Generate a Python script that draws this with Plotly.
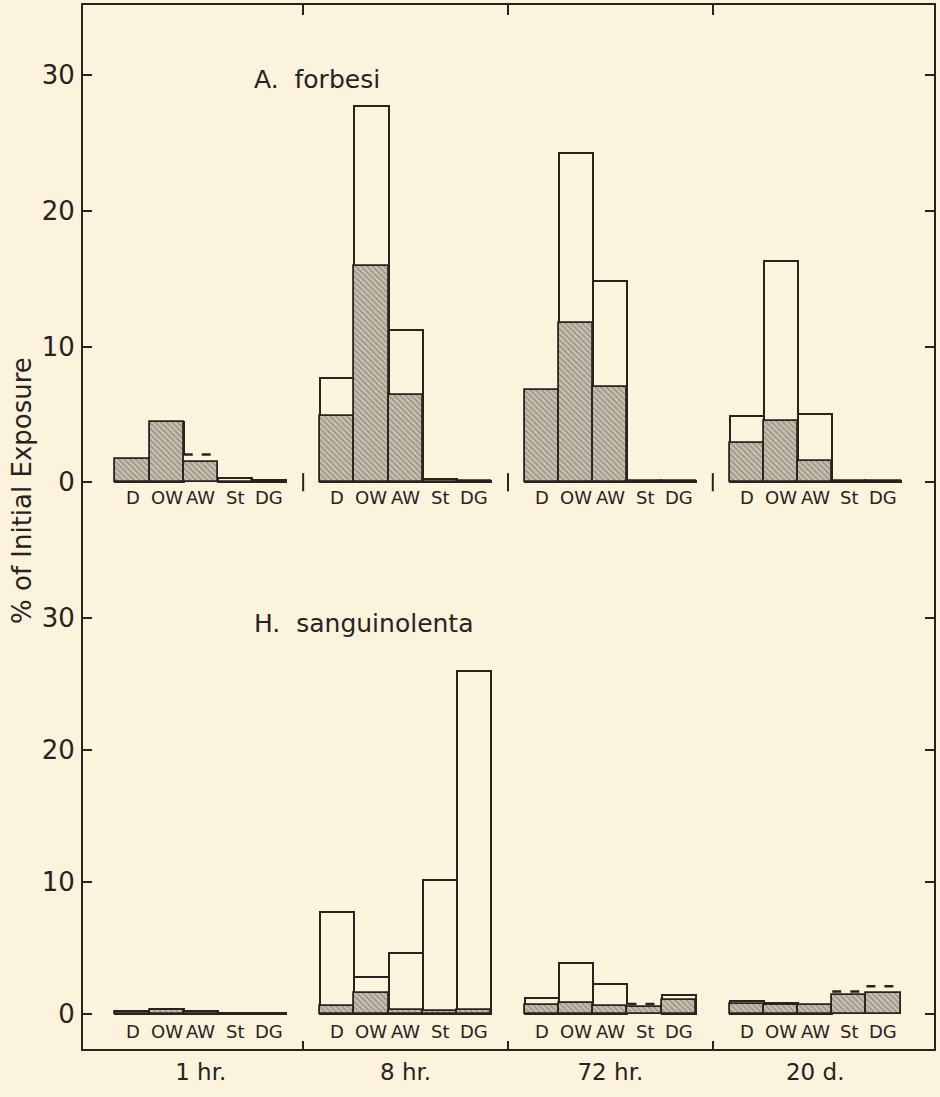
import plotly.graph_objects as go

# ---------------- data ----------------
categories = ["D", "OW", "AW", "St", "DG"]
times = ["1 hr.", "8 hr.", "72 hr.", "20 d."]

# A. forbesi : total (outlined) and shaded portion, per time group
forbesi_total = [
    [1.7, 4.45, 2.05, 0.3, 0.15],
    [7.7, 27.7, 11.2, 0.25, 0.12],
    [6.8, 24.3, 14.8, 0.1, 0.1],
    [4.85, 16.3, 5.0, 0.1, 0.1],
]
forbesi_shaded = [
    [1.7, 4.45, 1.5, 0.0, 0.12],
    [4.85, 15.9, 6.4, 0.0, 0.1],
    [6.8, 11.7, 7.0, 0.1, 0.1],
    [2.9, 4.5, 1.6, 0.1, 0.1],
]
forbesi_dashed = [
    [False, False, True, False, False],
    [False, False, False, False, False],
    [False, False, False, False, False],
    [False, False, False, False, False],
]

# H. sanguinolenta
sang_total = [
    [0.2, 0.4, 0.2, 0.05, 0.05],
    [7.7, 2.8, 4.65, 10.15, 26.0],
    [1.25, 3.9, 2.25, 0.75, 1.45],
    [1.0, 0.85, 0.68, 1.7, 2.1],
]
sang_shaded = [
    [0.15, 0.3, 0.15, 0.0, 0.0],
    [0.6, 1.6, 0.3, 0.2, 0.3],
    [0.7, 0.8, 0.6, 0.5, 1.1],
    [0.75, 0.65, 0.68, 1.45, 1.6],
]
sang_dashed = [
    [False, False, False, False, False],
    [False, False, False, False, False],
    [False, False, False, True, False],
    [False, False, False, True, True],
]

# ---------------- style ----------------
BG = "#fcf3dc"
INK = "#2a221d"
SHADE = "#c6c0b0"
HATCH = "#575047"
FONT = "DejaVu Sans"
BW = 1 / 6.0

fig = go.Figure()


def add_panel(total, shaded, dashed, xa, ya, label_shift):
    xs, tot, sh, lw = [], [], [], []
    dx, dy = [], []
    for g in range(len(times)):
        for i in range(len(categories)):
            x = g + (i - 2) * BW
            xs.append(x)
            tot.append(total[g][i])
            sh.append(shaded[g][i])
            lw.append(0 if dashed[g][i] else 2)
            if dashed[g][i]:
                dx += [x - BW / 2, x + BW / 2, None]
                dy += [total[g][i], total[g][i], None]
    fig.add_trace(go.Bar(
        x=xs, y=tot, width=BW, xaxis=xa, yaxis=ya, opacity=1,
        marker=dict(color=BG, line=dict(color=INK, width=lw)),
        showlegend=False, hoverinfo="skip"))
    fig.add_trace(go.Bar(
        x=xs, y=sh, width=BW, xaxis=xa, yaxis=ya, opacity=1,
        marker=dict(color=SHADE,
                    pattern=dict(shape="\\", fgcolor=HATCH, bgcolor=SHADE,
                                 size=4, solidity=0.3),
                    line=dict(color=INK, width=1.8)),
        showlegend=False, hoverinfo="skip"))
    if dx:
        fig.add_trace(go.Scatter(
            x=dx, y=dy, mode="lines", xaxis=xa, yaxis=ya,
            line=dict(color=INK, width=2.5, dash="dash"),
            showlegend=False, hoverinfo="skip"))
    # category labels under each bar
    for g in range(len(times)):
        for i, c in enumerate(categories):
            fig.add_annotation(
                x=g + (i - 2) * BW, y=0, xref=xa, yref=ya,
                text=c, showarrow=False, yshift=label_shift,
                font=dict(family=FONT, size=18, color=INK))


add_panel(forbesi_total, forbesi_shaded, forbesi_dashed, "x", "y", -15)
add_panel(sang_total, sang_shaded, sang_dashed, "x2", "y2", -17)

# small group separators at the baseline of the upper panel
group_bounds = [0.5, 1.5, 2.5]
fig.add_trace(go.Scatter(
    x=group_bounds, y=[0, 0, 0], mode="markers", xaxis="x", yaxis="y",
    marker=dict(symbol="line-ns-open", size=13, color=INK,
                line=dict(color=INK, width=2)),
    showlegend=False, hoverinfo="skip"))

XR = [-0.575, 3.58]
SPLIT = 0.4732

fig.update_layout(
    width=940, height=1097,
    margin=dict(l=83, r=6, t=5, b=48, autoexpand=False),
    paper_bgcolor=BG, plot_bgcolor=BG,
    barmode="overlay", bargap=0,
    font=dict(family=FONT, color=INK),
    xaxis=dict(domain=[0, 1], range=XR, anchor="y", side="top",
               showline=True, linecolor=INK, linewidth=2,
               ticks="inside", ticklen=10, tickwidth=2, tickcolor=INK,
               tickvals=group_bounds, showticklabels=False,
               showgrid=False, zeroline=False),
    xaxis2=dict(domain=[0, 1], range=XR, anchor="y2", side="bottom",
                showline=True, linecolor=INK, linewidth=2,
                tickvals=[0, 1, 2, 3], ticktext=times, ticks="",
                tickfont=dict(family=FONT, size=23, color=INK),
                ticklabelstandoff=1,
                minor=dict(tickmode="array", tickvals=group_bounds,
                           ticks="inside", ticklen=8, tickwidth=2,
                           tickcolor=INK, showgrid=False),
                showgrid=False, zeroline=False),
    yaxis=dict(domain=[SPLIT, 1], range=[-5.36, 35.17], anchor="x",
               tickvals=[0, 10, 20, 30], ticks="inside", ticklen=9,
               tickwidth=2, tickcolor=INK, showline=True, mirror="ticks",
               linecolor=INK, linewidth=2,
               tickfont=dict(family=FONT, size=26, color=INK),
               ticklabelstandoff=1, showgrid=False, zeroline=False),
    yaxis2=dict(domain=[0, SPLIT], range=[-2.65, 34.77], anchor="x2",
                tickvals=[0, 10, 20, 30], ticks="inside", ticklen=9,
                tickwidth=2, tickcolor=INK, showline=True, mirror="ticks",
                linecolor=INK, linewidth=2,
                tickfont=dict(family=FONT, size=26, color=INK),
                ticklabelstandoff=1, showgrid=False, zeroline=False),
)

fig.add_annotation(text="A.  forbesi", xref="paper", yref="paper",
                   x=(252 - 83) / 851, y=(1049 - 79) / 1044,
                   xanchor="left", yanchor="middle", showarrow=False,
                   font=dict(family=FONT, size=25, color=INK))
fig.add_annotation(text="H.  sanguinolenta", xref="paper", yref="paper",
                   x=(252 - 83) / 851, y=(1049 - 623) / 1044,
                   xanchor="left", yanchor="middle", showarrow=False,
                   font=dict(family=FONT, size=25, color=INK))
fig.add_annotation(text="% of Initial Exposure", xref="paper", yref="paper",
                   x=(22 - 83) / 851, y=(1049 - 491) / 1044,
                   xanchor="center", yanchor="middle", textangle=-90,
                   showarrow=False,
                   font=dict(family=FONT, size=26, color=INK))

fig.write_html("out.html",
               config={"displayModeBar": False},
               post_script="document.body.style.margin='0';"
                           "document.body.style.background='" + BG + "';")
